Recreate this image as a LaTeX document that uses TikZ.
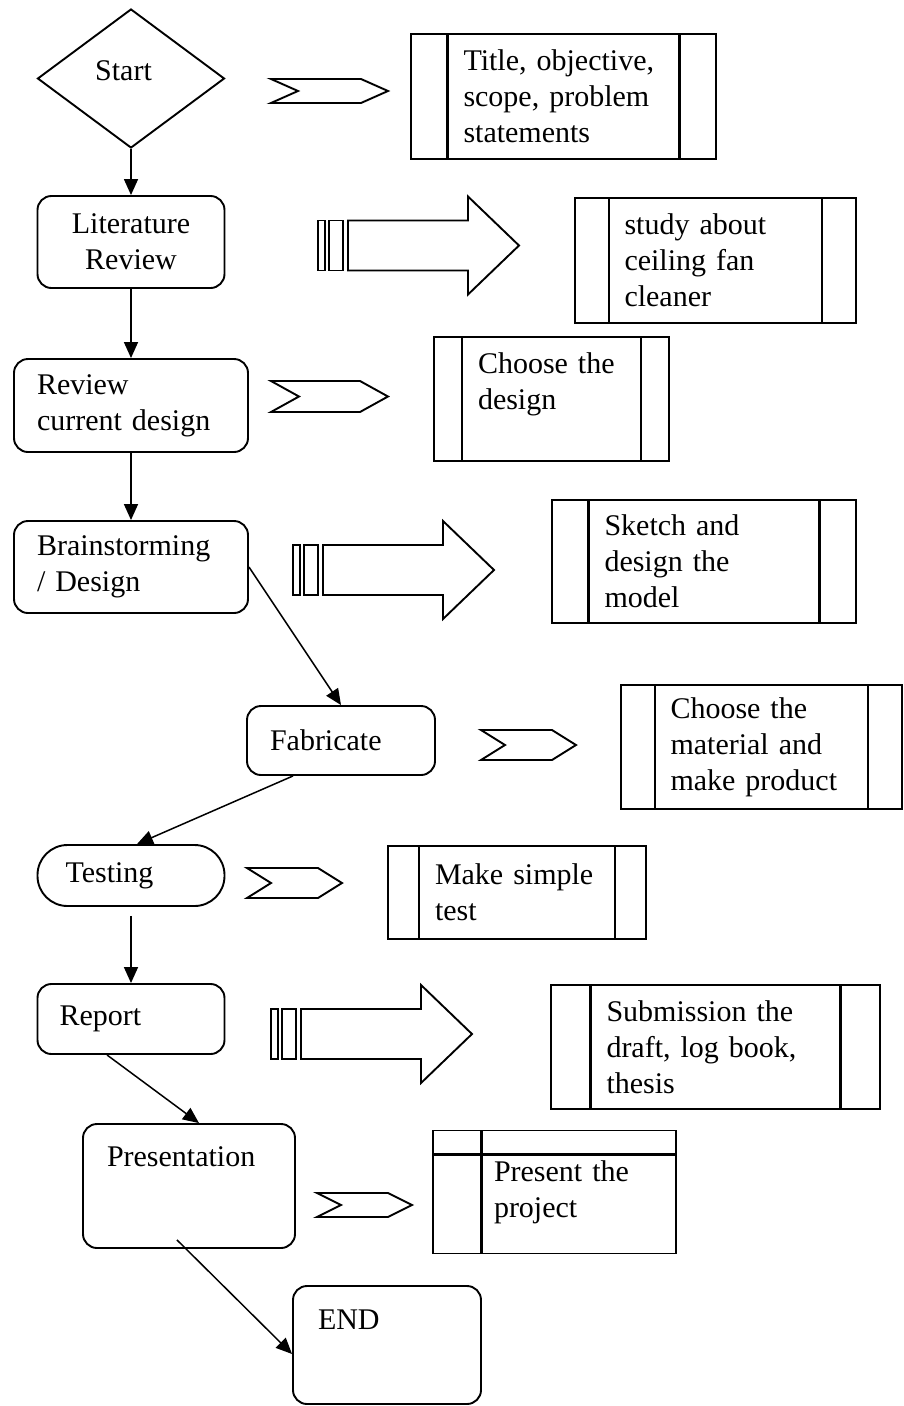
\documentclass[tikz,border=0pt]{standalone}
\usepackage{fontspec}
\setmainfont{Liberation Serif}
\usepackage{tikz}
\usetikzlibrary{arrows.meta,shapes.geometric,calc}

\begin{document}
\begin{tikzpicture}[x=1pt,y=-1pt,
    font=\fontsize{30}{35.8}\selectfont,
    line width=1.9pt,
    flow/.style={line width=1.5pt,-{Triangle[length=16pt,width=14pt]}},
    roundbox/.style={draw,rounded corners=14pt,inner xsep=23pt,inner ysep=0pt,align=left},
    procbox/.style={draw,rectangle,inner sep=0pt,align=left,
      path picture={
        \draw[line width=2.3pt] ($(path picture bounding box.north west)!0.12!(path picture bounding box.north east)$)
           -- ($(path picture bounding box.south west)!0.12!(path picture bounding box.south east)$);
        \draw[line width=2.3pt] ($(path picture bounding box.north east)!0.12!(path picture bounding box.north west)$)
           -- ($(path picture bounding box.south east)!0.12!(path picture bounding box.south west)$);}},
    tabbox/.style={draw,rectangle,inner sep=0pt,align=left,
      path picture={
        \draw[line width=2.3pt] ($(path picture bounding box.north west)!0.2!(path picture bounding box.north east)$)
           -- ($(path picture bounding box.south west)!0.2!(path picture bounding box.south east)$);
        \draw[line width=2.3pt] ([yshift=-24pt]path picture bounding box.north west)
           -- ([yshift=-24pt]path picture bounding box.north east);}},
    pics/chev/.style n args={3}{code={
        \draw (0,-#2/2) -- ++(#1-#3,0) -- (#1,0) -- (#1-#3,#2/2) -- (0,#2/2) -- (#3,0) -- cycle;}},
    pics/bigarrow/.style={code={
        \draw (0,-25) rectangle (7,25);
        \draw (11,-25) rectangle (25,25);
        \draw (30,-25) -- (150,-25) -- (150,-49) -- (201,0) -- (150,49) -- (150,25) -- (30,25) -- cycle;}}]

\useasboundingbox (0,0) rectangle (903,1406);

% main steps
\node[draw,diamond,inner sep=0pt,minimum width=187pt,minimum height=139pt,
      text height=21pt,text depth=18pt] (start) at (131,78.5) {Start\hspace*{15pt}};
\node[roundbox,align=center,text width=141pt,minimum width=187pt,minimum height=92pt] (lit) at (131,242) {Literature\\Review};
\node[roundbox,text width=188pt,minimum width=234pt,minimum height=93pt] (review) at (131,405.5) {Review\\current design};
\node[roundbox,text width=188pt,minimum width=234pt,minimum height=92pt] (brain) at (131,567) {Brainstorming\\/ Design};
\node[roundbox,text width=142pt,minimum width=188pt,minimum height=69pt] (fab) at (341,740.5) {Fabricate};
\node[draw,rounded corners=30pt,inner xsep=28pt,inner ysep=0pt,align=left,text width=131pt,
      minimum width=187pt,minimum height=61pt] (test) at (131,875.5) {Testing};
\node[roundbox,inner xsep=22pt,text width=143pt,minimum width=187pt,minimum height=70pt] (report) at (131,1019) {Report};
\node[roundbox,inner xsep=24pt,text width=164pt,minimum width=212pt,minimum height=124pt,
      text height=21pt,text depth=61pt] (pres) at (189,1186) {Presentation};
\node[roundbox,inner xsep=25pt,text width=138pt,minimum width=188pt,minimum height=118pt,
      text height=21pt,text depth=53pt] (end) at (387,1345) {END};

% what each step covers
\node[procbox,text width=200pt,minimum width=305pt,minimum height=125pt] (title) at (563.5,96.5) {Title, objective,\\scope, problem\\statements};
\node[procbox,text width=182pt,minimum width=281pt,minimum height=125pt] (study) at (715.5,260.5) {study about\\ceiling fan\\cleaner};
\node[procbox,text width=147pt,minimum width=235pt,minimum height=124pt] (choose) at (551.5,399) {Choose the\\design\\\mbox{}};
\node[procbox,text width=199pt,minimum width=304pt,minimum height=123pt] (sketch) at (704,561.5) {Sketch and\\design the\\model};
\node[procbox,text width=182pt,minimum width=281pt,minimum height=124pt] (material) at (761.5,747) {Choose the\\material and\\make product};
\node[procbox,text width=164pt,minimum width=258pt,minimum height=93pt] (simple) at (517,892.5) {Make simple\\test};
\node[procbox,text width=218pt,minimum width=329pt,minimum height=124pt] (submit) at (715.5,1047) {Submission the\\draft, log book,\\thesis};
\node[tabbox,text width=121pt,minimum width=243pt,minimum height=123pt] (present) at (554.5,1192) {Present~the\\project};

% arrows between the columns
\pic at (271,91) {chev={117}{24}{27}};
\pic at (318,245.5) {bigarrow};
\pic at (271,396.5) {chev={117}{31}{28}};
\pic at (293,570) {bigarrow};
\pic at (481,745) {chev={95}{30}{24}};
\pic at (247,883) {chev={95}{30}{24}};
\pic at (271,1034) {bigarrow};
\pic at (317,1205) {chev={95}{24}{24}};

% flow
\draw[flow] (start) -- (lit);
\draw[flow] (lit) -- (review);
\draw[flow] (review) -- (brain);
\draw[flow] (brain.east) -- (fab.north);
\draw[flow] ([xshift=-48pt]fab.south) -- ([xshift=6pt]test.north);
\draw[flow,shorten <=9pt] (test) -- (report);
\draw[flow] ([xshift=-24pt]report.south) -- ([xshift=10pt]pres.north);
\draw[flow] ([xshift=-12pt,yshift=9pt]pres.south) -- ([yshift=-9pt]end.west);
\end{tikzpicture}
\end{document}
